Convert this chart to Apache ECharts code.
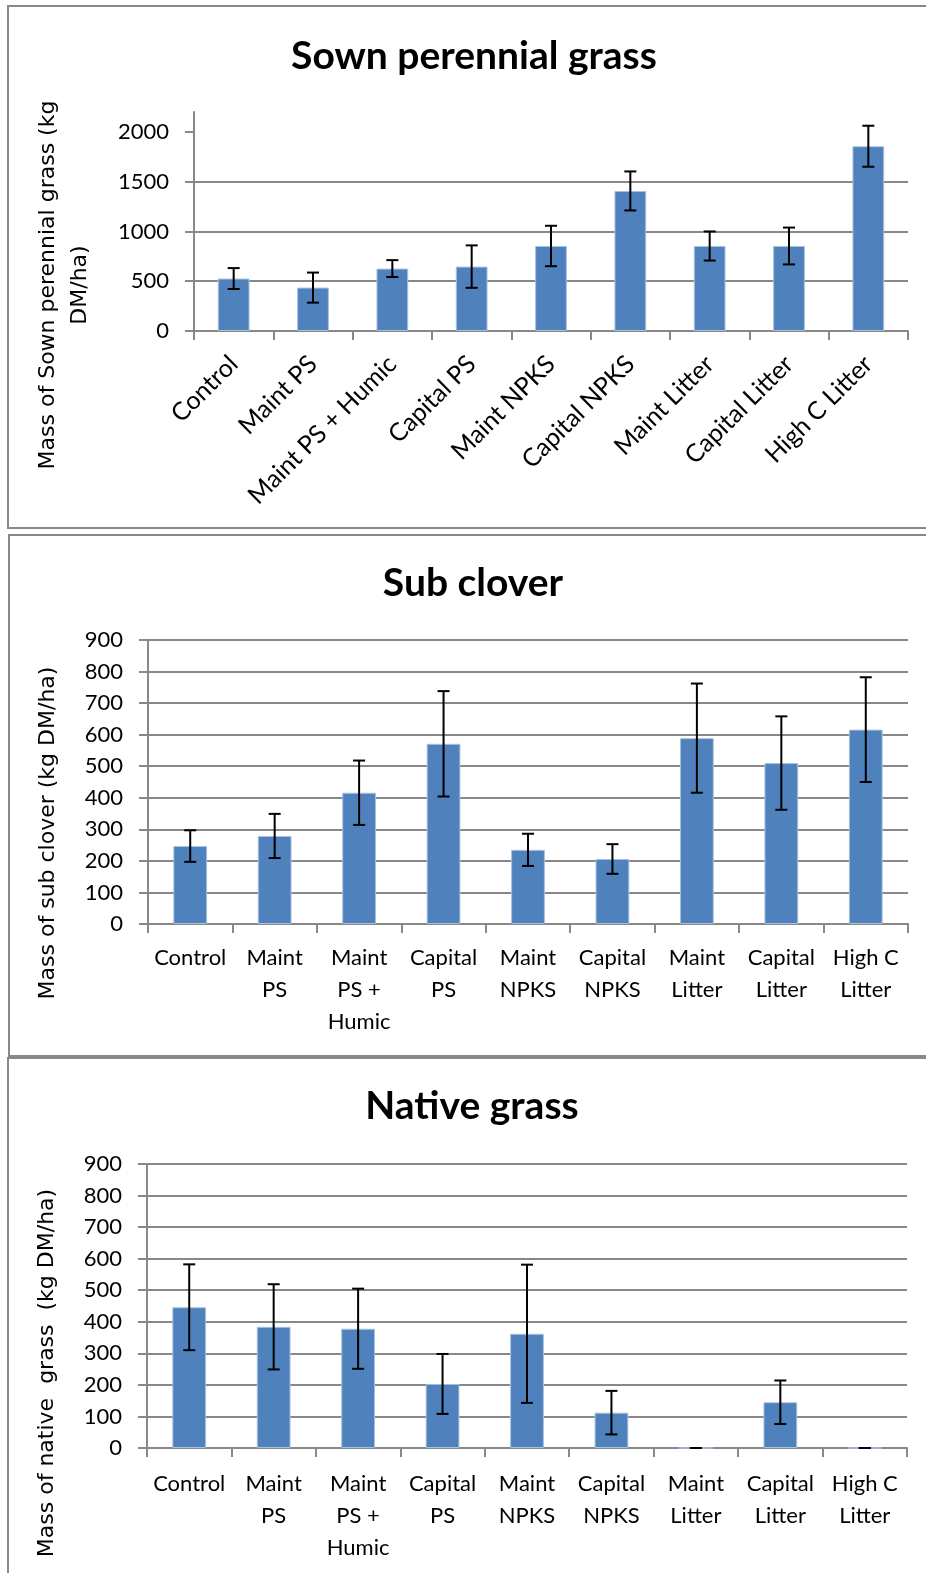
<!DOCTYPE html>
<html>
<head>
<meta charset="utf-8">
<script src="https://cdn.jsdelivr.net/npm/echarts@6/dist/echarts.min.js"></script>
<style>
  html, body { margin: 0; padding: 0; background: #fff; }
  #chart { width: 926px; height: 1573px; }
</style>
</head>
<body>
<div id="chart"></div>
<script>
// categories shared by the three panels
var categories = ['Control', 'Maint PS', 'Maint PS + Humic', 'Capital PS', 'Maint NPKS',
  'Capital NPKS', 'Maint Litter', 'Capital Litter', 'High C Litter']
// wrapped versions used under panels 2 and 3
var wrappedLabels = ['Control', 'Maint\nPS', 'Maint\nPS +\nHumic', 'Capital\nPS', 'Maint\nNPKS',
  'Capital\nNPKS', 'Maint\nLitter', 'Capital\nLitter', 'High C\nLitter']

// Sown perennial grass (kg DM/ha) mean and error
var sownMean = [527, 436, 627, 647, 854, 1407, 854, 854, 1856]
var sownErr = [105, 151, 85, 213, 203, 196, 146, 185, 206]
// Sub clover
var cloverMean = [247, 279, 416, 571, 235, 206, 589, 510, 616]
var cloverErr = [50, 70, 102, 167, 51, 47, 173, 148, 166]
// Native grass
var nativeMean = [446, 384, 378, 203, 362, 112, 0, 145, 0]
var nativeErr = [136, 135, 127, 95, 219, 69, 0, 69, 0]

// y tick labels
var sownTicks = [0, 500, 1000, 1500, 2000]
var cloverTicks = [0, 100, 200, 300, 400, 500, 600, 700, 800, 900]
var nativeTicks = [0, 100, 200, 300, 400, 500, 600, 700, 800, 900]

var GRID_COLOR = '#888888'
var BAR_COLOR = '#4f81bd'
var LABEL_FONT = 'Lato, "Open Sans", sans-serif'

function errorItem(params, api) {
  var i = api.value(0)
  var hi = api.coord([i, api.value(1) + api.value(2)])
  var lo = api.coord([i, api.value(1) - api.value(2)])
  var hw = 6
  var style = { stroke: '#000', lineWidth: 2 }
  return {
    type: 'group',
    children: [
      { type: 'line', shape: { x1: hi[0], y1: hi[1], x2: lo[0], y2: lo[1] }, style: style },
      { type: 'line', shape: { x1: hi[0] - hw, y1: hi[1], x2: hi[0] + hw, y2: hi[1] }, style: style },
      { type: 'line', shape: { x1: lo[0] - hw, y1: lo[1], x2: lo[0] + hw, y2: lo[1] }, style: style }
    ]
  }
}

function yAxis(idx, ticks, max) {
  return {
    gridIndex: idx,
    type: 'value',
    min: 0,
    max: max,
    interval: ticks[1] - ticks[0],
    axisLine: { show: true, lineStyle: { color: GRID_COLOR, width: 2 } },
    axisTick: { show: true, length: 9, customValues: ticks, lineStyle: { color: GRID_COLOR, width: 2 } },
    splitLine: { show: true, showMaxLine: max === ticks[ticks.length - 1], lineStyle: { color: GRID_COLOR, width: 2 } },
    axisLabel: {
      customValues: ticks,
      formatter: function (v) { return String(v) },
      margin: 25, color: '#000', fontFamily: LABEL_FONT, fontSize: 22
    }
  }
}

function xAxis(idx, labelOpt) {
  return {
    gridIndex: idx,
    type: 'category',
    data: categories,
    axisLine: { show: true, lineStyle: { color: GRID_COLOR, width: 2 } },
    axisTick: { show: true, length: 9, lineStyle: { color: GRID_COLOR, width: 2 } },
    axisLabel: Object.assign({ interval: 0, color: '#000', fontFamily: LABEL_FONT, fontSize: 22 }, labelOpt)
  }
}

function barSeries(idx, values) {
  return {
    type: 'bar',
    xAxisIndex: idx,
    yAxisIndex: idx,
    data: values,
    barWidth: '40%',
    itemStyle: { color: BAR_COLOR, borderColor: '#a9c1df', borderWidth: 1 }
  }
}

function errSeries(idx, means, errs) {
  return {
    type: 'custom',
    xAxisIndex: idx,
    yAxisIndex: idx,
    renderItem: errorItem,
    encode: { x: 0, y: 1 },
    z: 10,
    data: means.map(function (m, i) { return [i, m, errs[i]] })
  }
}

function boxRect(x, y, h) {
  return { type: 'rect', shape: { x: x, y: y, width: 960, height: h }, style: { fill: 'none', stroke: GRID_COLOR, lineWidth: 2 }, silent: true }
}

function titleText(text, x, y) {
  return { type: 'text', x: x, y: y, style: { text: text, font: 'bold 39px Lato, sans-serif', fill: '#000', align: 'center', verticalAlign: 'middle' } }
}

function axisName(text, x, y) {
  return { type: 'text', x: x, y: y, rotation: Math.PI / 2,
    style: { text: text, font: '22px "DejaVu Sans", sans-serif', lineHeight: 32, fill: '#000', align: 'center', verticalAlign: 'middle' } }
}

var option = {
  animation: false,
  backgroundColor: '#fff',
  grid: [
    { left: 194, top: 112, right: 18, height: 219 },
    { left: 148, top: 640, right: 18, height: 284 },
    { left: 147, top: 1164, right: 19, height: 284 }
  ],
  xAxis: [
    xAxis(0, { rotate: 45, margin: 29, fontSize: 25 }),
    xAxis(1, { margin: 18, lineHeight: 32, formatter: function (v, i) { return wrappedLabels[i] } }),
    xAxis(2, { margin: 20, lineHeight: 32, formatter: function (v, i) { return wrappedLabels[i] } })
  ],
  yAxis: [yAxis(0, sownTicks, 2200), yAxis(1, cloverTicks, 900), yAxis(2, nativeTicks, 900)],
  series: [
    barSeries(0, sownMean), errSeries(0, sownMean, sownErr),
    barSeries(1, cloverMean), errSeries(1, cloverMean, cloverErr),
    barSeries(2, nativeMean), errSeries(2, nativeMean, nativeErr)
  ],
  graphic: [
    boxRect(8, 6, 522),
    boxRect(9, 535, 521),
    boxRect(8, 1058, 600),
    titleText('Sown perennial grass', 474, 56),
    titleText('Sub clover', 473, 583),
    titleText('Native grass', 472, 1106),
    axisName('Mass of Sown perennial grass (kg\nDM/ha)', 64, 285),
    axisName('Mass of sub clover (kg DM/ha)', 48, 833),
    axisName('Mass of native  grass  (kg DM/ha)', 47, 1373)
  ]
}

var myChart = echarts.init(document.getElementById('chart'))
myChart.setOption(option)
</script>
</body>
</html>
